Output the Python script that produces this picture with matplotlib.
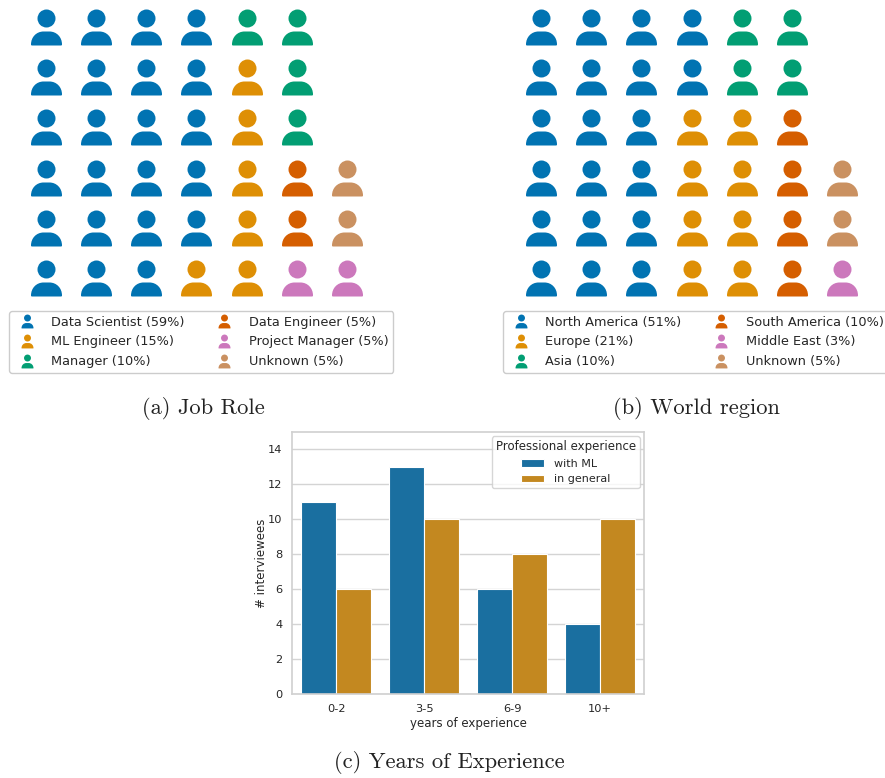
import matplotlib
matplotlib.use('Agg')
import matplotlib.pyplot as plt
from matplotlib.lines import Line2D
from matplotlib.path import Path
import numpy as np

W, H = 885, 778

# seaborn colorblind colours
colors = {'B': '#0173b2', 'O': '#de8f05', 'G': '#029e73',
          'R': '#d55e00', 'P': '#cc78bc', 'N': '#ca9161'}

# waffle grids, one string per row, one letter per person
role_grid = ['BBBBGG', 'BBBBOG', 'BBBBOG', 'BBBBORN', 'BBBBORN', 'BBBOOPP']
region_grid = ['BBBBGG', 'BBBBGG', 'BBBOOR', 'BBBOORN', 'BBBOORN', 'BBBOORP']

legend_keys = ['B', 'O', 'G', 'R', 'P', 'N']
role_labels = ['Data Scientist (59%)', 'ML Engineer (15%)', 'Manager (10%)',
               'Data Engineer (5%)', 'Project Manager (5%)', 'Unknown (5%)']
region_labels = ['North America (51%)', 'Europe (21%)', 'Asia (10%)',
                 'South America (10%)', 'Middle East (3%)', 'Unknown (5%)']

# bar chart
experience_bins = ['0-2', '3-5', '6-9', '10+']
with_ml = [11, 13, 6, 4]
in_general = [6, 10, 8, 10]


def person_marker():
    head = Path.circle((0, 9), 9)
    body = Path([(-15.5, -17), (-15.5, -9.5), (-10, -4), (-3, -4), (0, -4), (3, -4),
                 (10, -4), (15.5, -9.5), (15.5, -17), (15.5, -17.7), (15, -18), (14.5, -18),
                 (-14.5, -18), (-15, -18), (-15.5, -17.7), (-15.5, -17), (-15.5, -17)],
                [Path.MOVETO, Path.CURVE4, Path.CURVE4, Path.CURVE4, Path.LINETO, Path.LINETO,
                 Path.CURVE4, Path.CURVE4, Path.CURVE4, Path.CURVE4, Path.CURVE4, Path.CURVE4,
                 Path.LINETO, Path.CURVE4, Path.CURVE4, Path.CURVE4, Path.CLOSEPOLY])
    return Path.make_compound_path(head, body)


def px_axes(fig, left, top, right, bottom):
    return fig.add_axes([left / W, 1 - bottom / H, (right - left) / W, (bottom - top) / H])


PERSON = person_marker()


def waffle(fig, grid, labels, left, legend_left, caption, caption_x):
    ax = px_axes(fig, left, 27, left + 301, 278)
    ax.set_xlim(0, 6)
    ax.set_ylim(5, 0)
    ax.axis('off')
    for r, row in enumerate(grid):
        for c, key in enumerate(row):
            pts = ax.scatter(c, r, marker=PERSON, s=672, color=colors[key],
                             linewidths=0, clip_on=False)
            pts.set_snap(False)
    handles = [Line2D([], [], linestyle='none', marker=PERSON, markersize=10,
                      markeredgewidth=0, color=colors[k]) for k in legend_keys]
    ax.legend(handles, labels, ncol=2, loc='upper left',
              bbox_to_anchor=(legend_left / W, 1 - 311 / H),
              bbox_transform=fig.transFigure, borderaxespad=0, fontsize=9.3,
              labelspacing=0.53, borderpad=0.36, handletextpad=0.9,
              columnspacing=2.08, handlelength=2.0, edgecolor='#cccccc',
              framealpha=1, labelcolor='#262626')
    fig.text(caption_x / W, 1 - 408 / H, caption, family='cmr10', fontsize=16.2,
             ha='center', va='center', color='#222222')


fig = plt.figure(figsize=(W / 100, H / 100), dpi=100)

waffle(fig, role_grid, role_labels, 46, 9, '(a) Job Role', 203)
waffle(fig, region_grid, region_labels, 541, 503, '(b) World region', 696)

ax = px_axes(fig, 292, 432, 644, 694)
x = np.arange(len(experience_bins))
bar_w = 0.4
ax.bar(x - bar_w / 2, with_ml, bar_w, color='#1a6fa0', edgecolor='white', linewidth=0.8,
       label='with ML', zorder=2)
ax.bar(x + bar_w / 2, in_general, bar_w, color='#c38820', edgecolor='white', linewidth=0.8,
       label='in general', zorder=2)
ax.set_xlim(-0.5, 3.5)
ax.set_ylim(0, 15)
ax.set_xticks(x, experience_bins)
ax.set_yticks(range(0, 15, 2))
ax.grid(axis='y', color='#d4d4d4', linewidth=1, zorder=0)
ax.set_axisbelow(True)
ax.tick_params(length=0, labelsize=8.2, labelcolor='#262626', pad=7)
for s in ax.spines.values():
    s.set_color('#d0d0d0')
    s.set_linewidth(1.2)
ax.set_xlabel('years of experience', fontsize=8.5, color='#262626', labelpad=2)
ax.set_ylabel('# interviewees', fontsize=8.5, color='#262626', labelpad=0)
leg = ax.legend(title='Professional experience', loc='upper right', fontsize=8,
                title_fontsize=8.5, labelcolor='#262626', edgecolor='#cccccc',
                framealpha=0.8, borderaxespad=0.4, labelspacing=0.5, borderpad=0.35,
                handletextpad=0.9)
leg.get_title().set_color('#262626')

fig.text(449 / W, 1 - 763 / H, '(c) Years of Experience', family='cmr10', fontsize=16.2,
         ha='center', va='center', color='#222222')

fig.savefig('out.png', dpi=100)
